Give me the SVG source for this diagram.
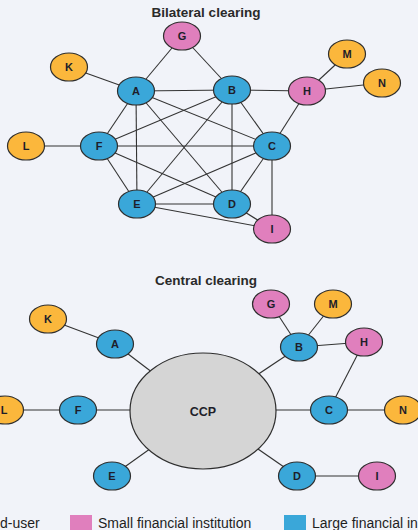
<svg xmlns="http://www.w3.org/2000/svg" width="418" height="530" viewBox="0 0 418 530">
<style>
.bg{fill:#f1f3f9}
.n{stroke:#2e2e2e;stroke-width:1.2}
.lg{fill:#3aa7d9}.sm{fill:#e07fbd}.eu{fill:#fbb73c}.ccp{fill:#d5d5d5}
.t{font-family:"Liberation Sans",Arial,sans-serif;font-weight:bold;font-size:11px;fill:#1e1e2a;text-anchor:middle;dominant-baseline:central}
.big{font-size:12.5px}
.title{font-family:"Liberation Sans",Arial,sans-serif;font-weight:bold;font-size:13.5px;fill:#2a2a2a;text-anchor:middle}
.leg{font-family:"Liberation Sans",Arial,sans-serif;font-size:14px;fill:#1e1e1e}
#edges line{stroke:#333;stroke-width:1.1}
</style>
<rect class="bg" width="418" height="530"/>
<text class="title" x="206" y="17">Bilateral clearing</text>
<text class="title" x="206" y="285">Central clearing</text>
<g id="edges">
<!-- bilateral -->
<line x1="182" y1="36" x2="136" y2="91"/>
<line x1="182" y1="36" x2="232" y2="90"/>
<line x1="69" y1="67" x2="136" y2="91"/>
<line x1="136" y1="91" x2="232" y2="90"/>
<line x1="232" y1="90" x2="307" y2="91"/>
<line x1="307" y1="91" x2="347" y2="54"/>
<line x1="307" y1="91" x2="382" y2="83"/>
<line x1="307" y1="91" x2="272" y2="146"/>
<line x1="136" y1="91" x2="99" y2="146"/>
<line x1="136" y1="91" x2="137" y2="204"/>
<line x1="136" y1="91" x2="232" y2="204"/>
<line x1="136" y1="91" x2="272" y2="146"/>
<line x1="232" y1="90" x2="99" y2="146"/>
<line x1="232" y1="90" x2="137" y2="204"/>
<line x1="232" y1="90" x2="232" y2="204"/>
<line x1="232" y1="90" x2="272" y2="146"/>
<line x1="26" y1="146" x2="99" y2="146"/>
<line x1="99" y1="146" x2="272" y2="146"/>
<line x1="99" y1="146" x2="137" y2="204"/>
<line x1="99" y1="146" x2="232" y2="204"/>
<line x1="272" y1="146" x2="137" y2="204"/>
<line x1="272" y1="146" x2="232" y2="204"/>
<line x1="272" y1="146" x2="272" y2="229"/>
<line x1="137" y1="204" x2="232" y2="204"/>
<line x1="137" y1="204" x2="272" y2="229"/>
<line x1="232" y1="204" x2="272" y2="229"/>
<!-- central -->
<line x1="48" y1="319" x2="115" y2="344"/>
<line x1="115" y1="344" x2="203" y2="411"/>
<line x1="271" y1="304" x2="299" y2="347"/>
<line x1="333" y1="304" x2="299" y2="347"/>
<line x1="299" y1="347" x2="364" y2="342"/>
<line x1="299" y1="347" x2="203" y2="411"/>
<line x1="364" y1="342" x2="329" y2="410"/>
<line x1="5" y1="410" x2="78" y2="410"/>
<line x1="78" y1="410" x2="203" y2="410"/>
<line x1="203" y1="410" x2="329" y2="410"/>
<line x1="329" y1="410" x2="403" y2="410"/>
<line x1="112" y1="476" x2="203" y2="411"/>
<line x1="297" y1="476" x2="203" y2="411"/>
<line x1="297" y1="476" x2="377" y2="476"/>
</g>
<!-- bilateral nodes -->
<g id="b-G"><ellipse class="n sm" cx="182" cy="36" rx="18.5" ry="14"/><text class="t" x="182" y="36">G</text></g>
<g id="b-K"><ellipse class="n eu" cx="69" cy="67" rx="18.5" ry="14"/><text class="t" x="69" y="67">K</text></g>
<g id="b-A"><ellipse class="n lg" cx="136" cy="91" rx="18.5" ry="14"/><text class="t" x="136" y="91">A</text></g>
<g id="b-B"><ellipse class="n lg" cx="232" cy="90" rx="18.5" ry="14"/><text class="t" x="232" y="90">B</text></g>
<g id="b-H"><ellipse class="n sm" cx="307" cy="91" rx="18.5" ry="14"/><text class="t" x="307" y="91">H</text></g>
<g id="b-M"><ellipse class="n eu" cx="347" cy="54" rx="18.5" ry="14"/><text class="t" x="347" y="54">M</text></g>
<g id="b-N"><ellipse class="n eu" cx="382" cy="83" rx="18.5" ry="14"/><text class="t" x="382" y="83">N</text></g>
<g id="b-L"><ellipse class="n eu" cx="26" cy="146" rx="18.5" ry="14"/><text class="t" x="26" y="146">L</text></g>
<g id="b-F"><ellipse class="n lg" cx="99" cy="146" rx="18.5" ry="14"/><text class="t" x="99" y="146">F</text></g>
<g id="b-C"><ellipse class="n lg" cx="272" cy="146" rx="18.5" ry="14"/><text class="t" x="272" y="146">C</text></g>
<g id="b-E"><ellipse class="n lg" cx="137" cy="204" rx="18.5" ry="14"/><text class="t" x="137" y="204">E</text></g>
<g id="b-D"><ellipse class="n lg" cx="232" cy="204" rx="18.5" ry="14"/><text class="t" x="232" y="204">D</text></g>
<g id="b-I"><ellipse class="n sm" cx="272" cy="229" rx="18.5" ry="14"/><text class="t" x="272" y="229">I</text></g>
<!-- central nodes -->
<g id="c-CCP"><ellipse class="n ccp" cx="203" cy="411" rx="73" ry="58"/><text class="t big" x="203" y="412">CCP</text></g>
<g id="c-K"><ellipse class="n eu" cx="48" cy="319" rx="18.5" ry="14"/><text class="t" x="48" y="319">K</text></g>
<g id="c-A"><ellipse class="n lg" cx="115" cy="344" rx="18.5" ry="14"/><text class="t" x="115" y="344">A</text></g>
<g id="c-G"><ellipse class="n sm" cx="271" cy="304" rx="18.5" ry="14"/><text class="t" x="271" y="304">G</text></g>
<g id="c-M"><ellipse class="n eu" cx="333" cy="304" rx="18.5" ry="14"/><text class="t" x="333" y="304">M</text></g>
<g id="c-B"><ellipse class="n lg" cx="299" cy="347" rx="18.5" ry="14"/><text class="t" x="299" y="347">B</text></g>
<g id="c-H"><ellipse class="n sm" cx="364" cy="342" rx="18.5" ry="14"/><text class="t" x="364" y="342">H</text></g>
<g id="c-L"><ellipse class="n eu" cx="5" cy="410" rx="18.5" ry="14"/><text class="t" x="4" y="410">L</text></g>
<g id="c-F"><ellipse class="n lg" cx="78" cy="410" rx="18.5" ry="14"/><text class="t" x="78" y="410">F</text></g>
<g id="c-C"><ellipse class="n lg" cx="329" cy="410" rx="18.5" ry="14"/><text class="t" x="329" y="410">C</text></g>
<g id="c-N"><ellipse class="n eu" cx="403" cy="410" rx="18.5" ry="14"/><text class="t" x="403" y="410">N</text></g>
<g id="c-E"><ellipse class="n lg" cx="112" cy="476" rx="18.5" ry="14"/><text class="t" x="112" y="476">E</text></g>
<g id="c-D"><ellipse class="n lg" cx="297" cy="476" rx="18.5" ry="14"/><text class="t" x="297" y="476">D</text></g>
<g id="c-I"><ellipse class="n sm" cx="377" cy="476" rx="18.5" ry="14"/><text class="t" x="377" y="476">I</text></g>
<!-- legend -->
<g id="legend">
<text class="leg" x="0" y="528">d-user</text>
<rect class="sm" x="70" y="515" width="22" height="20"/>
<text class="leg" x="98" y="528">Small financial institution</text>
<rect class="lg" x="284" y="515" width="22" height="20"/>
<text class="leg" x="312" y="528">Large financial in</text>
</g>
</svg>
